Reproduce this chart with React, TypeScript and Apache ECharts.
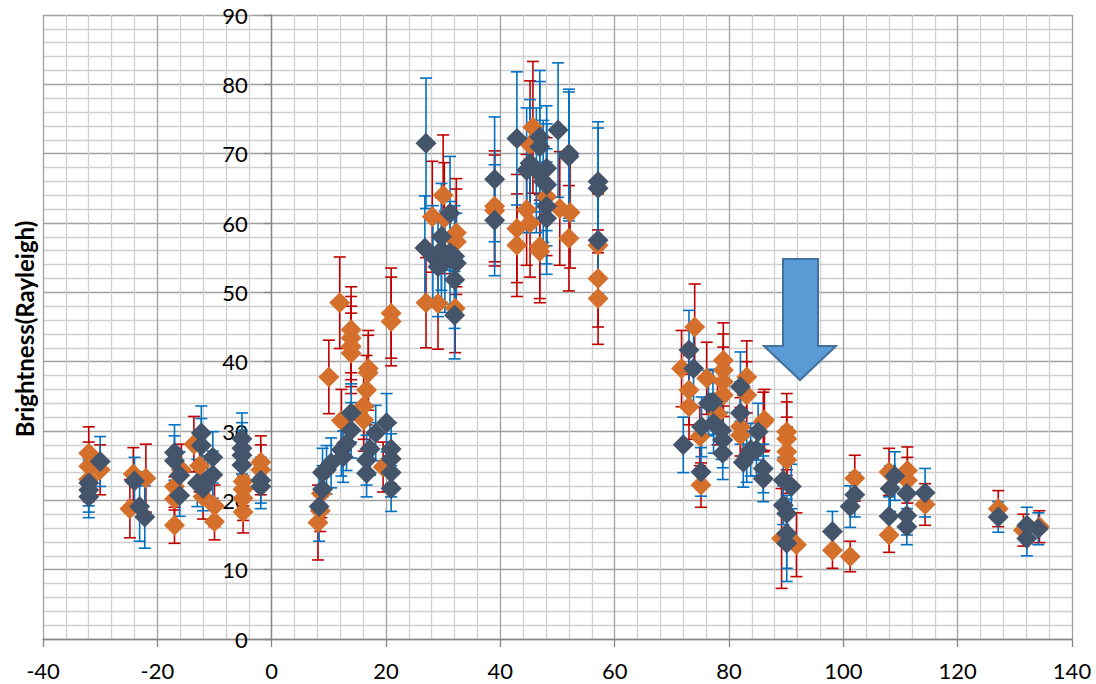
import React, { useEffect, useRef } from "react";
import * as echarts from "echarts";

// [x, brightness, error]
const orangePoints: number[][] = [
  [-32, 26.8, 3.8], [-32, 24.9, 3.5], [-32, 23.0, 3.2], [-30, 24.4, 3.6],
  [-24.2, 23.8, 3.8], [-24.8, 18.8, 4.2], [-22, 23.2, 4.9],
  [-17, 22.0, 3.4], [-17, 20.2, 3.2], [-17, 16.4, 2.6], [-15.8, 24.4, 3.7],
  [-13.6, 28.1, 4.0], [-12.6, 25.0, 3.8], [-12.0, 20.5, 3.2], [-10, 19.2, 3.0], [-10, 16.9, 2.6],
  [-5, 22.7, 3.5], [-5, 21.6, 3.4], [-5, 20.3, 3.2], [-5, 18.3, 3.0], [-1.9, 25.5, 3.8], [-1.9, 24.4, 3.6],
  [8.1, 16.8, 5.4], [8.7, 21.0, 3.5], [8.5, 18.5, 3.0], [10.0, 37.8, 5.3], [11.9, 48.5, 6.6],
  [12.2, 31.5, 4.5], [13.9, 44.6, 6.2], [13.9, 43.4, 6.0], [13.9, 42.2, 5.8], [13.9, 41.2, 5.8],
  [16.9, 39.0, 5.5], [16.9, 38.4, 5.4], [16.6, 35.9, 5.0], [16.1, 33.6, 4.8], [16.1, 31.6, 4.5],
  [19.5, 24.8, 3.6], [20.9, 47.0, 6.5], [20.9, 45.8, 6.4],
  [27.0, 48.5, 6.5], [29.1, 48.4, 6.6], [28.1, 60.9, 8.0], [30.0, 64.0, 8.7], [30.2, 60.7, 8.0],
  [32.3, 58.6, 7.8], [32.3, 57.3, 7.6], [32.1, 47.7, 6.4],
  [39, 62.4, 8.0], [39, 61.8, 8.0], [42.9, 59.2, 7.8], [42.9, 56.8, 7.4], [45.7, 73.8, 9.5],
  [45.2, 71.3, 9.2], [44.6, 61.9, 8.0], [45.2, 60.0, 7.8], [48.1, 63.8, 8.5], [50.4, 62.1, 8.2],
  [52.2, 61.5, 8.0], [52.0, 57.8, 7.6], [46.9, 56.6, 7.5], [46.9, 55.9, 7.4],
  [57.1, 56.8, 7.4], [57.1, 52.0, 7.0], [57.1, 49.1, 6.6],
  [71.7, 39.0, 5.5], [74.0, 45.0, 6.2], [73.0, 35.9, 5.0], [73.0, 33.5, 4.7], [74.9, 29.2, 4.2],
  [75.1, 22.2, 3.2], [76.1, 37.6, 5.2], [79.0, 40.2, 5.4], [79.0, 38.8, 5.2], [79.0, 37.1, 5.0],
  [79.0, 35.2, 4.8], [78.0, 32.5, 4.5], [83.1, 37.8, 5.2], [83.1, 35.2, 4.8], [82.0, 30.6, 4.2],
  [82.0, 29.4, 4.0], [86.0, 31.3, 4.3], [86.2, 31.6, 4.4], [90.1, 29.9, 5.5], [90.1, 28.9, 5.3],
  [90.1, 27.0, 5.0], [90.1, 25.8, 4.8], [89.2, 14.5, 7.2], [91.8, 13.6, 4.6],
  [98.1, 12.8, 2.6], [101.2, 11.9, 2.2], [102.0, 23.2, 3.3],
  [108.0, 24.1, 3.4], [108.0, 15.0, 2.5], [111.2, 24.3, 3.4], [111.2, 22.9, 3.3], [114.3, 19.4, 3.0],
  [127.1, 18.8, 2.6], [131.5, 15.7, 2.3], [134.3, 16.2, 2.3],
];

const darkPoints: number[][] = [
  [-32, 22.5, 3.3], [-32, 21.5, 3.2], [-32, 20.5, 3.0], [-30, 25.6, 3.6],
  [-24.0, 22.8, 3.4], [-23.1, 19.1, 5.0], [-22.2, 17.6, 4.5],
  [-17, 26.9, 4.0], [-17, 25.7, 3.6], [-16.1, 23.6, 3.4], [-16.1, 20.7, 3.0],
  [-12.3, 29.7, 3.9], [-12.3, 27.9, 3.9], [-13.0, 22.5, 3.4], [-11.2, 23.0, 3.4],
  [-10.3, 26.2, 3.7], [-10.3, 23.7, 3.4], [-12.0, 21.7, 3.2],
  [-5.2, 28.9, 3.7], [-5.2, 27.5, 3.7], [-5.2, 26.5, 3.6], [-5.2, 25.1, 3.4], [-1.9, 22.9, 3.3], [-1.9, 22.0, 3.2],
  [8.3, 19.1, 5.0], [8.9, 21.6, 3.4], [8.9, 24.0, 3.5], [9.6, 24.4, 3.5], [10.4, 25.4, 3.6],
  [12.5, 26.3, 3.7], [12.2, 27.3, 3.8], [13.1, 28.2, 3.9], [13.9, 30.1, 4.0], [13.9, 32.6, 4.2],
  [16.6, 23.9, 3.4], [16.6, 25.8, 3.6], [17.2, 27.4, 3.8], [18.2, 29.7, 4.0], [20.1, 31.2, 4.2],
  [20.9, 27.4, 3.8], [20.9, 26.0, 3.6], [20.9, 24.0, 3.5], [20.9, 21.7, 3.3],
  [27.0, 71.5, 9.4], [26.8, 56.4, 7.5], [28.2, 55.2, 7.3], [29.7, 58.0, 7.7], [29.7, 56.1, 7.5],
  [30.3, 54.4, 7.3], [31.2, 61.4, 8.2], [31.2, 55.7, 7.4], [29.1, 53.7, 7.2], [32.0, 55.2, 7.3],
  [32.3, 54.2, 7.2], [32.0, 51.8, 7.0], [32.0, 46.7, 6.3],
  [39.0, 66.3, 9.0], [39.0, 60.4, 8.0], [42.9, 72.2, 9.6], [45.2, 68.6, 9.2], [46.9, 72.4, 9.6],
  [46.9, 71.0, 9.4], [46.3, 67.6, 9.0], [48.1, 67.9, 9.0], [47.5, 66.0, 8.8], [48.1, 65.5, 8.8],
  [44.6, 67.6, 9.0], [50.1, 73.4, 9.7], [52.0, 70.0, 9.3], [52.0, 69.6, 9.3], [48.1, 62.4, 8.3],
  [48.1, 60.7, 8.1], [57.1, 66.0, 8.6], [57.1, 65.0, 8.7], [57.1, 57.5, 7.7],
  [72.0, 28.0, 4.0], [73.0, 41.7, 5.7], [73.8, 39.0, 5.4], [75.2, 30.6, 4.3], [75.1, 24.1, 3.5],
  [76.4, 34.0, 4.7], [77.2, 34.2, 4.7], [77.3, 31.1, 4.3], [78.7, 30.1, 4.2], [78.9, 28.7, 4.0],
  [78.9, 26.8, 3.8], [82.0, 36.4, 5.0], [82.0, 32.6, 4.5], [82.5, 25.5, 3.6], [83.1, 26.3, 3.7],
  [83.8, 27.3, 3.8], [85.1, 29.9, 4.1], [84.8, 27.3, 3.8], [86.0, 24.6, 3.5], [86.0, 23.1, 3.3],
  [89.5, 22.9, 3.3], [90.9, 22.0, 3.2], [89.5, 19.3, 2.8], [90.1, 18.1, 2.6], [90.1, 15.2, 5.0],
  [90.1, 13.8, 5.5],
  [98.1, 15.5, 2.9], [101.2, 19.1, 3.0], [102.0, 20.8, 3.2],
  [109.0, 23.5, 3.5], [108.2, 21.7, 3.3], [108.0, 17.7, 2.8], [111.1, 21.0, 3.2], [111.1, 17.8, 2.8],
  [111.1, 16.2, 2.6], [114.3, 21.1, 3.5],
  [127.1, 17.6, 2.2], [132.1, 16.4, 2.6], [132.1, 14.5, 2.5], [134.1, 15.9, 2.3],
];

const xTicks = { min: -40, max: 140, interval: 20 };
const yTicks = { min: 0, max: 90, interval: 10 };
const yTitle = "Brightness(Rayleigh)";

const FONT = "Lato, 'Open Sans', sans-serif";
const GRID = { left: 43, right: 24, top: 15, bottom: 45 };
const WIDTH = 1096;

function errorBars(name: string, pts: number[][], color: string) {
  return {
    type: "custom",
    name,
    silent: true,
    data: pts.map((p) => [p[0], p[1] - p[2], p[1] + p[2]]),
    encode: { x: 0, y: [1, 2] },
    renderItem: (_params: any, api: any) => {
      const x = api.value(0);
      const lo = api.coord([x, api.value(1)]);
      const hi = api.coord([x, api.value(2)]);
      const cap = 6;
      const st = { stroke: color, lineWidth: 1.6 };
      return {
        type: "group",
        children: [
          { type: "line", shape: { x1: lo[0], y1: lo[1], x2: hi[0], y2: hi[1] }, style: st },
          { type: "line", shape: { x1: lo[0] - cap, y1: lo[1], x2: lo[0] + cap, y2: lo[1] }, style: st },
          { type: "line", shape: { x1: hi[0] - cap, y1: hi[1], x2: hi[0] + cap, y2: hi[1] }, style: st },
        ],
      };
    },
  };
}

export default function App() {
  const ref = useRef<HTMLDivElement>(null);
  useEffect(() => {
    document.body.style.margin = "0";
    const chart = echarts.init(ref.current!, null, { renderer: "svg" });
    // shift of the y axis from the grid's left edge to x = 0
    const plotW = WIDTH - GRID.left - GRID.right;
    const yAxisShift = (plotW * (0 - xTicks.min)) / (xTicks.max - xTicks.min);
    chart.setOption({
      animation: false,
      backgroundColor: "#ffffff",
      grid: { ...GRID, containLabel: false, outerBoundsMode: "none" },
      xAxis: {
        type: "value",
        min: xTicks.min,
        max: xTicks.max,
        interval: xTicks.interval,
        axisLine: { show: true, onZero: false, lineStyle: { color: "#868686", width: 1.3 } },
        axisTick: { show: true, length: 8, lineStyle: { color: "#868686", width: 1.3 } },
        axisLabel: { color: "#000", fontSize: 22, fontFamily: FONT, margin: 20 },
        splitLine: { show: true, lineStyle: { color: "#a0a0a0", width: 1.3 } },
        minorTick: { show: false, splitNumber: 5 },
        minorSplitLine: { show: true, lineStyle: { color: "#cfcfcf", width: 1.3 } },
      },
      yAxis: {
        type: "value",
        min: yTicks.min,
        max: yTicks.max,
        interval: yTicks.interval,
        offset: -yAxisShift,
        axisLine: { show: true, onZero: false, lineStyle: { color: "#868686", width: 1.3 } },
        axisTick: { show: true, length: 8, lineStyle: { color: "#868686", width: 1.3 } },
        axisLabel: { color: "#000", fontSize: 22, fontFamily: FONT, margin: 24 },
        splitLine: { show: true, lineStyle: { color: "#a0a0a0", width: 1.3 } },
        minorTick: { show: false, splitNumber: 5 },
        minorSplitLine: { show: true, lineStyle: { color: "#cfcfcf", width: 1.3 } },
      },
      graphic: [
        {
          type: "text",
          x: 24,
          y: 329,
          rotation: Math.PI / 2,
          style: {
            text: yTitle,
            fontFamily: FONT,
            fontWeight: "bold",
            fontSize: 24,
            fill: "#000",
            textAlign: "center",
            textVerticalAlign: "middle",
          },
          z: 100,
        },
        {
          type: "polygon",
          shape: {
            points: [
              [783, 259], [818, 259], [818, 346], [836, 346], [800, 380], [764, 346], [783, 346],
            ],
          },
          style: { fill: "#5B9BD5", stroke: "#41719C", lineWidth: 2 },
          z: 100,
        },
      ],
      series: [
        errorBars("orangeErr", orangePoints, "#C00000"),
        errorBars("darkErr", darkPoints, "#0070C0"),
        {
          type: "scatter",
          name: "orange",
          symbol: "diamond",
          symbolSize: 21,
          itemStyle: { color: "#D5702C", opacity: 1 },
          data: orangePoints.map((p) => [p[0], p[1]]),
        },
        {
          type: "scatter",
          name: "dark",
          symbol: "diamond",
          symbolSize: 21,
          itemStyle: { color: "#44546A", opacity: 1 },
          data: darkPoints.map((p) => [p[0], p[1]]),
        },
      ],
    });
    return () => chart.dispose();
  }, []);
  return <div ref={ref} style={{ width: WIDTH, height: 684 }} />;
}
